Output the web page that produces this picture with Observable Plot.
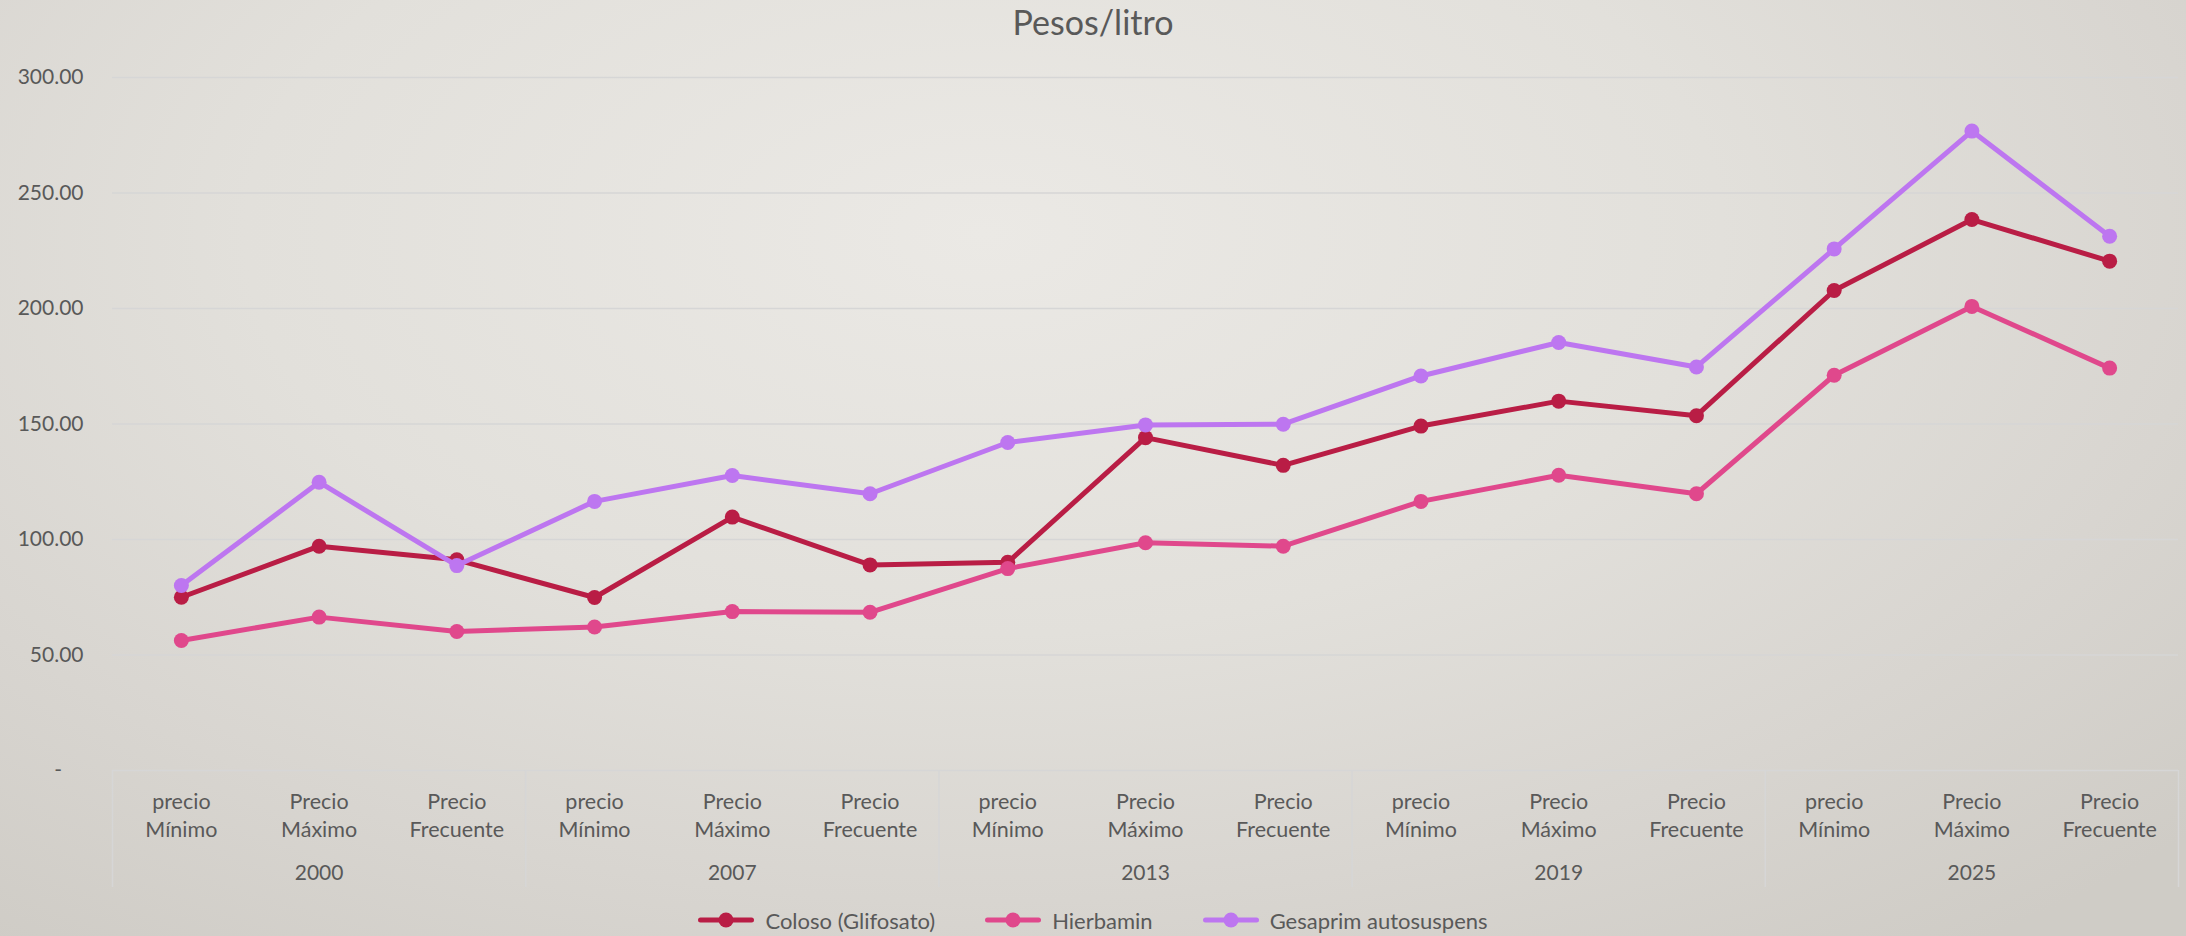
<!DOCTYPE html>
<html>
<head>
<meta charset="utf-8">
<script src="https://cdn.jsdelivr.net/npm/d3@7"></script>
<script src="https://cdn.jsdelivr.net/npm/@observablehq/plot@0.6"></script>
<style>
  html, body { margin: 0; padding: 0; }
  body {
    width: 2186px; height: 936px; overflow: hidden;
    background: radial-gradient(ellipse 75% 95% at 45% 25%, #ebe9e5 0%, #e2e0db 45%, #d8d5d0 75%, #cfccc6 100%);
    font-family: Lato, "Open Sans", sans-serif;
    color: #595959;
  }
  #title { height: 50px; line-height: 44px; text-align: center; font-size: 34px; color: #595959; }
  #chart svg { display: block; background: transparent; }
  #legend { height: 36px; display: flex; justify-content: center; align-items: center; padding-top: 4px; box-sizing: border-box; font-size: 22px; color: #595959; }
  .item { display: flex; align-items: center; margin: 0 25px; }
  .item svg { margin-right: 11px; }
</style>
</head>
<body>
<div id="title">Pesos/litro</div>
<div id="chart"></div>
<div id="legend"></div>
<script>
const years = ["2000", "2007", "2013", "2019", "2025"];
const priceTypes = ["precio\nMínimo", "Precio\nMáximo", "Precio\nFrecuente"];
const seriesNames = ["Coloso (Glifosato)", "Hierbamin", "Gesaprim autosuspens"];
const seriesColors = ["#b91d45", "#e0488c", "#bd76f0"];
const coloso    = [75.0, 97.1, 91.2, 74.9, 109.7, 89.0, 90.1, 144.1, 132.1, 149.1, 159.9, 153.6, 207.8, 238.5, 220.5];
const hierbamin = [56.3, 66.4, 60.2, 62.1, 68.8, 68.5, 87.4, 98.6, 97.1, 116.5, 127.8, 119.8, 171.1, 200.9, 174.2];
const gesaprim  = [80.1, 124.8, 88.7, 116.5, 127.7, 119.8, 142.0, 149.6, 149.9, 170.8, 185.3, 174.7, 225.8, 276.8, 231.3];
const yTicks = [0, 50, 100, 150, 200, 250, 300];

const categories = years.flatMap(y => priceTypes.map(p => ({year: y, label: p})));
const seriesValues = [coloso, hierbamin, gesaprim];
const data = seriesNames.flatMap((s, k) => seriesValues[k].map((v, i) => ({series: s, i, value: v})));
const groupCenters = years.map((y, g) => ({year: y, i: g * 3 + 1}));
const bounds = years.map((y, g) => g * 3 - 0.5).concat([years.length * 3 - 0.5]);

const W = 2186, H = 850, mT = 27, mB = 130, mL = 112, mR = 8;
const frameH = H - mT - mB;
const textColor = "#595959";
const gridColor = "#d6d6d6";

const marks = [
  Plot.gridY({ticks: yTicks, stroke: gridColor, strokeOpacity: 1, strokeWidth: 1.5}),
  Plot.ruleX(bounds, {x: d => d, stroke: gridColor, strokeWidth: 1.5, insetTop: frameH, insetBottom: -117}),
  Plot.axisY({ticks: yTicks, tickSize: 0, tickPadding: 29, fontSize: 21, fill: textColor,
    tickFormat: d => d === 0 ? "-\u00a0\u00a0\u00a0\u00a0" : d.toFixed(2), label: null}),
  Plot.text(categories, {x: (d, i) => i, text: "label", frameAnchor: "bottom", lineAnchor: "top", dy: 19.5,
    lineHeight: 1.27, fontSize: 21.5, fill: textColor}),
  Plot.text(groupCenters, {x: "i", text: "year", frameAnchor: "bottom", lineAnchor: "top", dy: 95, fontSize: 21, fill: textColor})
];
seriesNames.forEach((s, k) => {
  const rows = data.filter(d => d.series === s);
  marks.push(Plot.line(rows, {x: "i", y: "value", stroke: seriesColors[k], strokeWidth: 5, strokeLinejoin: "round", strokeLinecap: "round"}));
  marks.push(Plot.dot(rows, {x: "i", y: "value", r: 7.5, fill: seriesColors[k], stroke: "none"}));
});

const chart = Plot.plot({
  width: W, height: H,
  marginTop: mT, marginBottom: mB, marginLeft: mL, marginRight: mR,
  style: {background: "transparent", fontFamily: "Lato, 'Open Sans', sans-serif", overflow: "visible"},
  x: {type: "linear", domain: [-0.5, categories.length - 0.5], axis: null},
  y: {domain: [0, 300], axis: null},
  marks
});
document.getElementById("chart").append(chart);

const legend = document.getElementById("legend");
seriesNames.forEach((s, k) => {
  const item = document.createElement("div");
  item.className = "item";
  item.innerHTML = `<svg width="56" height="20"><line x1="2.5" y1="10" x2="53.5" y2="10" stroke="${seriesColors[k]}" stroke-width="5" stroke-linecap="round"/><circle cx="28" cy="10" r="7.5" fill="${seriesColors[k]}"/></svg><span>${s}</span>`;
  legend.append(item);
});
</script>
</body>
</html>
